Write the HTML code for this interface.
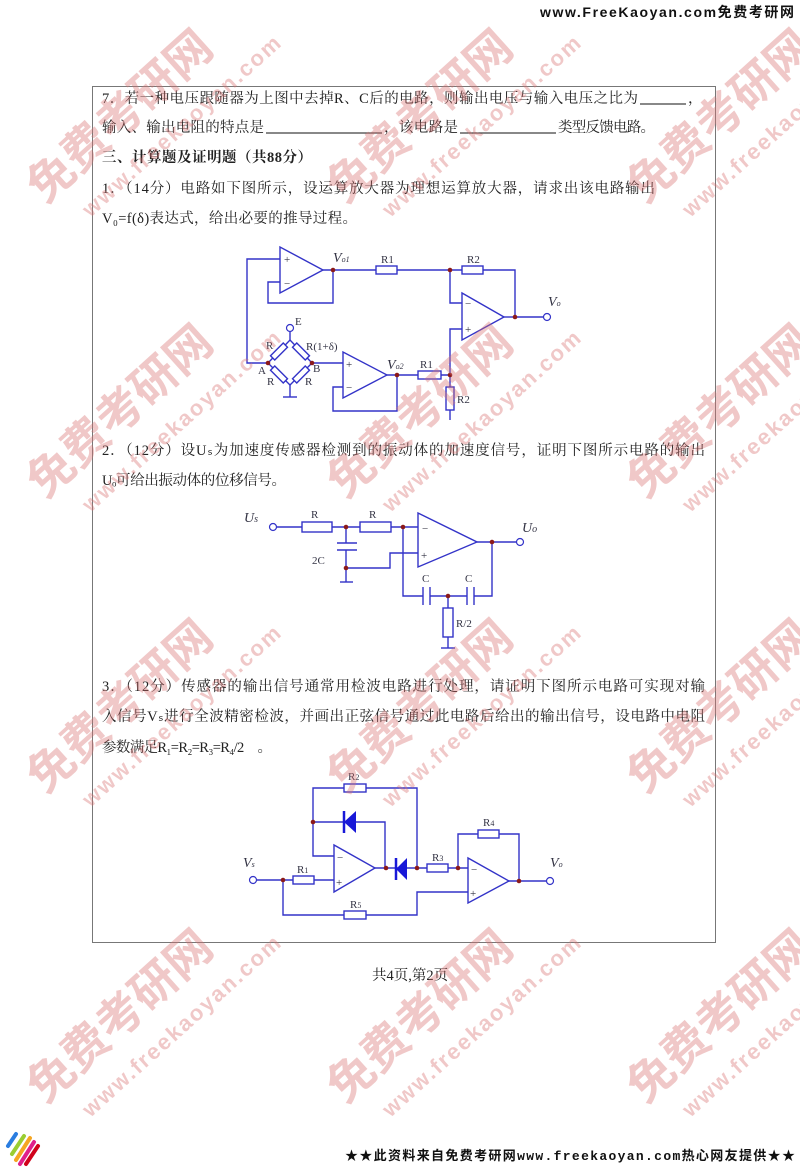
<!DOCTYPE html>
<html><head><meta charset="utf-8"><style>
html,body{margin:0;padding:0;background:#fff;}
svg{display:block;}
.t{font-family:"Liberation Serif","Noto Serif CJK SC","Noto Sans CJK SC",serif;font-size:14.5px;fill:#222;}
.b{font-weight:bold;}
.w{stroke:#3333c8;stroke-width:1.4;fill:none;}
.r{stroke:#3333c8;stroke-width:1.4;fill:#fff;}
.n{fill:#8b1a1a;}
.l{font-family:"Liberation Serif",serif;font-size:11px;fill:#334;}
.li{font-family:"Liberation Serif",serif;font-style:italic;font-size:14px;fill:#334;}
.wm{font-family:"Liberation Sans","Noto Sans CJK SC",sans-serif;font-weight:bold;fill:#d87070;opacity:0.38;}
</style></head><body>
<svg width="800" height="1167" viewBox="0 0 800 1167" xmlns="http://www.w3.org/2000/svg">
<rect x="0" y="0" width="800" height="1167" fill="#fff"/>
<text x="540" y="17" font-family="Liberation Sans,Noto Sans CJK SC,sans-serif" font-weight="bold" font-size="14" fill="#111" textLength="254">www.FreeKaoyan.com免费考研网</text>
<rect x="92.5" y="86.5" width="623" height="856" fill="none" stroke="#777" stroke-width="1"/>

<text class="t" x="102" y="103" textLength="536">7．若一种电压跟随器为上图中去掉R、C后的电路，则输出电压与输入电压之比为</text>
<line x1="640" y1="104" x2="686" y2="104" stroke="#111"/>
<text class="t" x="688" y="103">，</text>
<text class="t" x="102" y="132" textLength="162">输入、输出电阻的特点是</text>
<line x1="266" y1="133" x2="382" y2="133" stroke="#111"/>
<text class="t" x="384" y="132" textLength="74">，该电路是</text>
<line x1="460" y1="133" x2="556" y2="133" stroke="#111"/>
<text class="t" x="558" y="132" textLength="97">类型反馈电路。</text>
<text class="t b" x="102" y="162" textLength="210">三、计算题及证明题（共88分）</text>
<text class="t" x="102" y="193" textLength="553">1．（14分）电路如下图所示，设运算放大器为理想运算放大器，请求出该电路输出</text>
<text class="t" x="102" y="223" textLength="255">V₀=f(δ)表达式，给出必要的推导过程。</text>

<text class="t" x="102" y="455" textLength="603">2．（12分）设Uₛ为加速度传感器检测到的振动体的加速度信号，证明下图所示电路的输出</text>
<text class="t" x="102" y="485" textLength="184">Uₒ可给出振动体的位移信号。</text>

<text class="t" x="102" y="691" textLength="603">3．（12分）传感器的输出信号通常用检波电路进行处理，请证明下图所示电路可实现对输</text>
<text class="t" x="102" y="721" textLength="603">入信号Vₛ进行全波精密检波，并画出正弦信号通过此电路后给出的输出信号，设电路中电阻</text>
<text class="t" x="102" y="752" textLength="170">参数满足R₁=R₂=R₃=R₄/2　。</text>

<text class="t" x="372" y="980" font-size="11">共4页,第2页</text>

<!-- Circuit 1 -->
<g>
<polygon class="w" points="280,247 280,293 323,270"/>
<polygon class="w" points="462,293 462,340 504,317"/>
<polygon class="w" points="343,352 343,398 387,375"/>
<polyline class="w" points="280,259 247,259 247,363 268,363"/>
<polyline class="w" points="323,270 450,270 450,303 462,303"/>
<polyline class="w" points="333,270 333,303 268,303 268,282 280,282"/>
<polyline class="w" points="450,270 515,270 515,317 543,317"/>
<line class="w" x1="504" y1="317" x2="515" y2="317"/>
<circle cx="547" cy="317" r="3.5" fill="#fff" stroke="#3333c8" stroke-width="1.2"/>
<polyline class="w" points="462,329 450,329 450,420"/>
<rect class="r" x="376" y="266" width="21" height="8"/>
<rect class="r" x="462" y="266" width="21" height="8"/>
<rect class="r" x="446" y="387" width="8" height="23"/>
<polyline class="w" points="268,363 290,340 312,363 290,385 268,363"/>
<line class="w" x1="290" y1="340" x2="290" y2="332"/>
<circle cx="290" cy="328" r="3.5" fill="#fff" stroke="#3333c8" stroke-width="1.2"/>
<polyline class="w" points="290,385 290,397"/><line class="w" x1="283" y1="397" x2="297" y2="397"/>
<g transform="translate(279,351.5) rotate(-45)"><rect class="r" x="-9" y="-3" width="18" height="6"/></g>
<g transform="translate(301,351.5) rotate(45)"><rect class="r" x="-9" y="-3" width="18" height="6"/></g>
<g transform="translate(279,374.5) rotate(45)"><rect class="r" x="-9" y="-3" width="18" height="6"/></g>
<g transform="translate(301,374.5) rotate(-45)"><rect class="r" x="-9" y="-3" width="18" height="6"/></g>
<polyline class="w" points="312,363 343,363"/>
<polyline class="w" points="387,375 450,375"/>
<polyline class="w" points="397,375 397,411 333,411 333,387 343,387"/>
<rect class="r" x="418" y="371" width="23" height="8"/>
<circle class="n" cx="333" cy="270" r="2.3"/><circle class="n" cx="450" cy="270" r="2.3"/>
<circle class="n" cx="515" cy="317" r="2.3"/><circle class="n" cx="450" cy="375" r="2.3"/>
<circle class="n" cx="397" cy="375" r="2.3"/><circle class="n" cx="268" cy="363" r="2.3"/><circle class="n" cx="312" cy="363" r="2.3"/>
<text class="l" x="284" y="263" font-size="13">+</text><text class="l" x="284" y="287" font-size="13">−</text>
<text class="l" x="465" y="307" font-size="13">−</text><text class="l" x="465" y="333" font-size="13">+</text>
<text class="l" x="346" y="368" font-size="13">+</text><text class="l" x="346" y="391" font-size="13">−</text>
<text class="li" x="333" y="262" font-size="11">V<tspan font-size="8">o1</tspan></text>
<text class="li" x="387" y="369" font-size="11">V<tspan font-size="8">o2</tspan></text>
<text class="li" x="548" y="306" font-size="12">V<tspan font-size="8">o</tspan></text>
<text class="l" x="381" y="263">R1</text><text class="l" x="467" y="263">R2</text>
<text class="l" x="420" y="368">R1</text><text class="l" x="457" y="403">R2</text>
<text class="l" x="295" y="325" font-size="13">E</text>
<text class="l" x="266" y="349">R</text><text class="l" x="306" y="350">R(1+δ)</text>
<text class="l" x="258" y="374" font-size="9">A</text><text class="l" x="313" y="372" font-size="9">B</text>
<text class="l" x="267" y="385">R</text><text class="l" x="305" y="385">R</text>
</g>

<!-- Circuit 2 -->
<g>
<text class="li" x="244" y="522" font-size="15">U<tspan font-size="10">s</tspan></text>
<circle cx="273" cy="527" r="3.5" fill="#fff" stroke="#3333c8" stroke-width="1.2"/>
<polyline class="w" points="277,527 418,527"/>
<rect class="r" x="302" y="522" width="30" height="10"/>
<rect class="r" x="360" y="522" width="31" height="10"/>
<polygon class="w" points="418,513 418,567 477,542"/>
<polyline class="w" points="477,542 516,542"/>
<circle cx="520" cy="542" r="3.5" fill="#fff" stroke="#3333c8" stroke-width="1.2"/>
<text class="li" x="522" y="532" font-size="15">U<tspan font-size="10">o</tspan></text>
<polyline class="w" points="346,527 346,543"/><line class="w" x1="337" y1="543" x2="357" y2="543"/>
<line class="w" x1="337" y1="550" x2="357" y2="550"/><polyline class="w" points="346,550 346,582"/>
<line class="w" x1="340" y1="582" x2="353" y2="582"/>
<polyline class="w" points="346,568 390,568 390,553 418,553"/>
<polyline class="w" points="403,527 403,596 423,596"/>
<line class="w" x1="423" y1="587" x2="423" y2="605"/><line class="w" x1="430" y1="587" x2="430" y2="605"/>
<polyline class="w" points="430,596 467,596"/>
<line class="w" x1="467" y1="587" x2="467" y2="605"/><line class="w" x1="474" y1="587" x2="474" y2="605"/>
<polyline class="w" points="474,596 492,596 492,542"/>
<polyline class="w" points="448,596 448,648"/><line class="w" x1="441" y1="648" x2="455" y2="648"/>
<rect class="r" x="443" y="608" width="10" height="29"/>
<circle class="n" cx="346" cy="527" r="2.3"/><circle class="n" cx="403" cy="527" r="2.3"/>
<circle class="n" cx="346" cy="568" r="2.3"/><circle class="n" cx="492" cy="542" r="2.3"/><circle class="n" cx="448" cy="596" r="2.3"/>
<text class="l" x="422" y="532" font-size="14">−</text><text class="l" x="421" y="559" font-size="14">+</text>
<text class="l" x="311" y="518" font-size="13">R</text><text class="l" x="369" y="518" font-size="13">R</text>
<text class="l" x="312" y="564" font-size="13">2C</text>
<text class="l" x="422" y="582" font-size="13">C</text><text class="l" x="465" y="582" font-size="13">C</text>
<text class="l" x="456" y="627" font-size="13">R/2</text>
</g>

<!-- Circuit 3 -->
<g>
<text class="li" x="243" y="867" font-size="12">V<tspan font-size="8">s</tspan></text>
<circle cx="253" cy="880" r="3.5" fill="#fff" stroke="#3333c8" stroke-width="1.2"/>
<polyline class="w" points="257,880 334,880"/>
<rect class="r" x="293" y="876" width="21" height="8"/>
<polygon class="w" points="334,845 334,892 375,868"/>
<polyline class="w" points="375,868 417,868"/>
<polygon points="407,858 407,880 396,869" fill="#1818d8"/>
<line x1="396" y1="858" x2="396" y2="880" stroke="#1818d8" stroke-width="2.5"/>
<polyline class="w" points="417,868 417,788 313,788 313,856 334,856"/>
<rect class="r" x="344" y="784" width="22" height="8"/>
<polyline class="w" points="313,822 385,822 385,868"/>
<polygon points="356,811 356,833 344,822" fill="#1818d8"/>
<line x1="344" y1="811" x2="344" y2="833" stroke="#1818d8" stroke-width="2.5"/>
<polyline class="w" points="417,868 468,868"/>
<rect class="r" x="427" y="864" width="21" height="8"/>
<polygon class="w" points="468,858 468,903 509,881"/>
<polyline class="w" points="458,868 458,834 519,834 519,881"/>
<rect class="r" x="478" y="830" width="21" height="8"/>
<polyline class="w" points="509,881 546,881"/>
<circle cx="550" cy="881" r="3.5" fill="#fff" stroke="#3333c8" stroke-width="1.2"/>
<text class="li" x="550" y="867" font-size="12">V<tspan font-size="8">o</tspan></text>
<polyline class="w" points="283,880 283,915 417,915 417,892 468,892"/>
<rect class="r" x="344" y="911" width="22" height="8"/>
<circle class="n" cx="283" cy="880" r="2.3"/><circle class="n" cx="313" cy="822" r="2.3"/>
<circle class="n" cx="386" cy="868" r="2.3"/><circle class="n" cx="417" cy="868" r="2.3"/>
<circle class="n" cx="458" cy="868" r="2.3"/><circle class="n" cx="519" cy="881" r="2.3"/>
<text class="l" x="337" y="861" font-size="13">−</text><text class="l" x="336" y="886" font-size="13">+</text>
<text class="l" x="471" y="873" font-size="13">−</text><text class="l" x="470" y="897" font-size="13">+</text>
<text class="l" x="348" y="780">R<tspan font-size="8">2</tspan></text>
<text class="l" x="483" y="826">R<tspan font-size="8">4</tspan></text>
<text class="l" x="432" y="861">R<tspan font-size="8">3</tspan></text>
<text class="l" x="297" y="873">R<tspan font-size="8">1</tspan></text>
<text class="l" x="350" y="908">R<tspan font-size="8">5</tspan></text>
</g>

<!-- footer -->
<text x="345" y="1160" font-family="Liberation Mono,Noto Sans CJK SC,monospace" font-weight="bold" font-size="13" fill="#111" textLength="450">★★此资料来自免费考研网www.freekaoyan.com热心网友提供★★</text>
<g transform="translate(4,1130)">
<line x1="4" y1="16" x2="12" y2="4" stroke="#2a7de0" stroke-width="4" stroke-linecap="round"/>
<line x1="8" y1="24" x2="20" y2="6" stroke="#9acd32" stroke-width="4" stroke-linecap="round"/>
<line x1="12" y1="30" x2="26" y2="8" stroke="#f5a623" stroke-width="4" stroke-linecap="round"/>
<line x1="16" y1="34" x2="30" y2="12" stroke="#e0218a" stroke-width="4" stroke-linecap="round"/>
<line x1="22" y1="34" x2="34" y2="16" stroke="#d0021b" stroke-width="4" stroke-linecap="round"/>
</g>

<!-- watermarks -->
<g id="wm">
<g transform="translate(45,205) rotate(-42)">
<text class="wm" x="0" y="0" font-size="46">免费考研网</text>
<text class="wm" x="25" y="40" font-size="22" letter-spacing="2">www.freekaoyan.com</text>
</g>
</g>
<use href="#wm" x="300" y="0"/><use href="#wm" x="600" y="0"/>
<use href="#wm" x="0" y="295"/><use href="#wm" x="300" y="295"/><use href="#wm" x="600" y="295"/>
<use href="#wm" x="0" y="590"/><use href="#wm" x="300" y="590"/><use href="#wm" x="600" y="590"/>
<use href="#wm" x="0" y="900"/><use href="#wm" x="300" y="900"/><use href="#wm" x="600" y="900"/>
</svg>
</body></html>
